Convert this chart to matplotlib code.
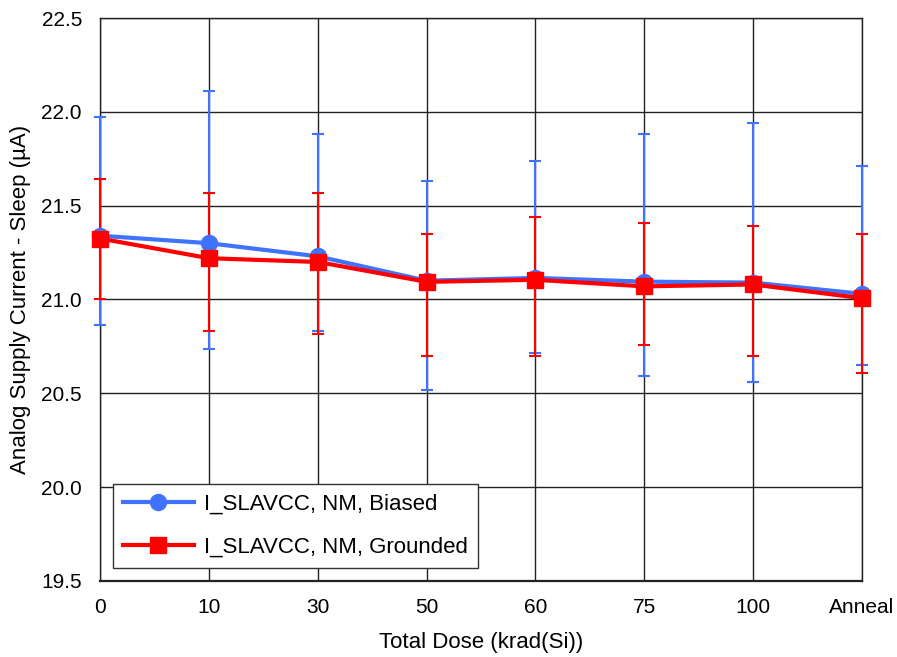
import numpy as np
import matplotlib.pyplot as plt

plt.rcParams['font.family'] = ['Liberation Sans', 'DejaVu Sans']

doses = ['0', '10', '30', '50', '60', '75', '100', 'Anneal']

biased_mean = [21.34, 21.30, 21.23, 21.10, 21.115, 21.095, 21.09, 21.03]
biased_upper = [21.97, 22.11, 21.88, 21.63, 21.74, 21.88, 21.94, 21.71]
biased_lower = [20.865, 20.735, 20.83, 20.52, 20.714, 20.59, 20.56, 20.65]

grounded_mean = [21.325, 21.22, 21.20, 21.094, 21.105, 21.07, 21.08, 21.007]
grounded_upper = [21.64, 21.57, 21.57, 21.35, 21.44, 21.41, 21.39, 21.35]
grounded_lower = [21.00, 20.83, 20.815, 20.70, 20.70, 20.756, 20.70, 20.61]


def plot_ex():
    x = np.arange(len(doses))
    fig = plt.figure(figsize=(8.97, 6.57), dpi=100)
    ax = fig.add_axes([0.1115, 0.1157, 0.8495, 0.8569])

    blue = '#3f72ff'
    red = '#ff0000'

    b_mean = np.array(biased_mean)
    g_mean = np.array(grounded_mean)
    b_err = [b_mean - np.array(biased_lower), np.array(biased_upper) - b_mean]
    g_err = [g_mean - np.array(grounded_lower), np.array(grounded_upper) - g_mean]

    for mean, err, col, z in [(b_mean, b_err, blue, 3), (g_mean, g_err, red, 4)]:
        eb = ax.errorbar(x, mean, yerr=err, fmt='none', ecolor=col, elinewidth=1.5,
                         capsize=4.5, capthick=1.5, zorder=z)
        for art in eb.lines[1] + eb.lines[2]:
            art.set_clip_on(False)

    ax.plot(x, b_mean, color=blue, linewidth=3, marker='o', markersize=11.5,
            label='I_SLAVCC, NM, Biased', zorder=5, clip_on=False)
    ax.plot(x, g_mean, color=red, linewidth=3, marker='s', markersize=11.5,
            label='I_SLAVCC, NM, Grounded', zorder=6, clip_on=False)

    ax.set_xlim(0, 7)
    ax.set_ylim(19.5, 22.5)
    ax.set_xticks(x)
    ax.set_xticklabels(doses)
    yt = np.arange(19.5, 22.51, 0.5)
    ax.set_yticks(yt)
    ax.set_yticklabels([f'{v:.1f}' for v in yt])
    ax.tick_params(length=0, labelsize=15)
    ax.tick_params(axis='y', pad=13)
    ax.tick_params(axis='x', pad=12)
    ax.grid(True, color='#222222', linewidth=1)
    ax.set_axisbelow(True)
    for s in ax.spines.values():
        s.set_color('#222222')
        s.set_linewidth(1)
    ax.spines['bottom'].set_linewidth(1.6)

    ax.set_xlabel('Total Dose (krad(Si))', fontsize=16, labelpad=11)
    ax.set_ylabel('Analog Supply Current - Sleep (µA)', fontsize=16, labelpad=7)

    leg = ax.legend(loc='lower left', fontsize=16,
                    fancybox=False, framealpha=1, edgecolor='#333333',
                    borderpad=0.45, labelspacing=1.0, handlelength=3.2,
                    handletextpad=0.45, borderaxespad=0.58)
    leg.get_frame().set_linewidth(1)

    fig.savefig('out.png', dpi=100)


if __name__ == '__main__':
    plot_ex()
